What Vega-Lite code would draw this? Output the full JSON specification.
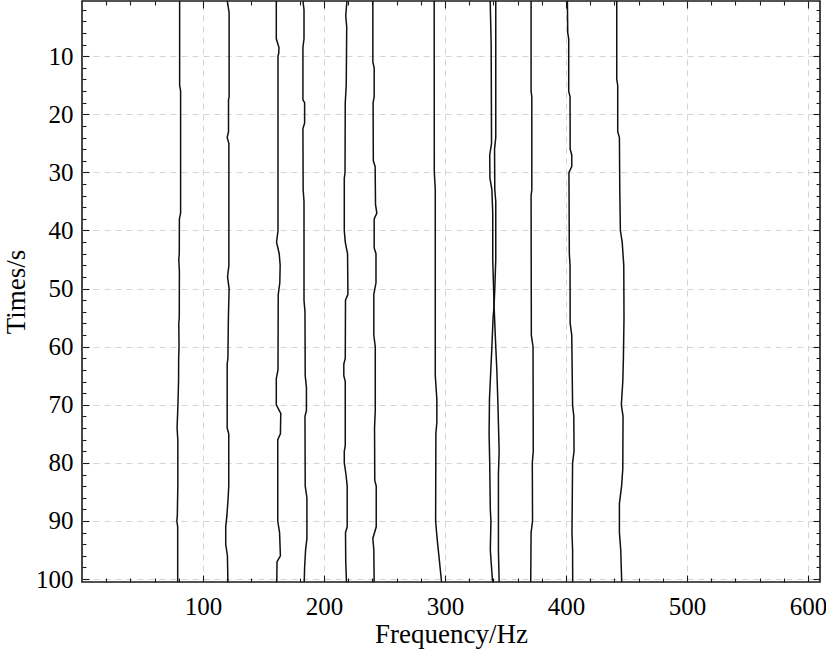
{
"$schema": "https://vega.github.io/schema/vega-lite/v6.json",
"width": 738, "height": 581,
"autosize": {"type": "none"},
"padding": {"left": 82, "top": 1, "right": 6, "bottom": 70},
"background": "white",
"config": {
  "view": {"stroke": "#1a1a1a", "strokeWidth": 1.6},
  "font": "Liberation Serif",
  "axis": {"labelFont": "Liberation Serif", "titleFont": "Liberation Serif", "labelFontSize": 25, "titleFontSize": 27, "labelColor": "#000", "titleColor": "#000", "titleFontWeight": "normal", "domain": false, "tickColor": "#1a1a1a", "tickWidth": 1.1, "gridColor": "#d4d4d4", "gridDash": [6, 5], "gridWidth": 1}
},
"data": {"values": [
{"id":1,"t":0.5,"f":80.7},{"id":1,"t":15,"f":80.7},{"id":1,"t":16,"f":81.5},{"id":1,"t":37,"f":81.5},{"id":1,"t":38,"f":80.5},{"id":1,"t":44,"f":80.4},{"id":1,"t":45,"f":80.0},{"id":1,"t":47,"f":80.5},{"id":1,"t":55,"f":80.4},{"id":1,"t":56,"f":80.0},{"id":1,"t":60,"f":80.2},{"id":1,"t":62,"f":79.9},{"id":1,"t":66,"f":79.8},{"id":1,"t":70,"f":79.3},{"id":1,"t":74,"f":78.6},{"id":1,"t":76,"f":79.2},{"id":1,"t":84,"f":79.2},{"id":1,"t":89,"f":78.8},{"id":1,"t":90,"f":78.4},{"id":1,"t":91,"f":79.1},{"id":1,"t":100.5,"f":79.1},
{"id":2,"t":0.5,"f":120.1},{"id":2,"t":2.5,"f":121.6},{"id":2,"t":17,"f":121.6},{"id":2,"t":17.5,"f":121.1},{"id":2,"t":23,"f":121.1},{"id":2,"t":24,"f":120.0},{"id":2,"t":25,"f":121.4},{"id":2,"t":46,"f":121.4},{"id":2,"t":48,"f":120.3},{"id":2,"t":50,"f":121.6},{"id":2,"t":55,"f":121.0},{"id":2,"t":62,"f":120.6},{"id":2,"t":63,"f":120.0},{"id":2,"t":74,"f":120.0},{"id":2,"t":75,"f":121.3},{"id":2,"t":84,"f":121.3},{"id":2,"t":86,"f":120.8},{"id":2,"t":89,"f":119.8},{"id":2,"t":91,"f":118.8},{"id":2,"t":94,"f":118.8},{"id":2,"t":96,"f":120.2},{"id":2,"t":100.5,"f":120.6},
{"id":3,"t":0.5,"f":160.6},{"id":3,"t":7,"f":160.6},{"id":3,"t":8.5,"f":162.8},{"id":3,"t":9.5,"f":162.6},{"id":3,"t":10,"f":162.0},{"id":3,"t":40,"f":162.0},{"id":3,"t":42,"f":160.8},{"id":3,"t":44,"f":163.0},{"id":3,"t":46,"f":163.8},{"id":3,"t":49,"f":163.5},{"id":3,"t":51,"f":162.2},{"id":3,"t":64,"f":162.0},{"id":3,"t":65.5,"f":160.6},{"id":3,"t":70,"f":160.6},{"id":3,"t":71.5,"f":164.3},{"id":3,"t":75,"f":164.0},{"id":3,"t":76,"f":161.8},{"id":3,"t":90,"f":161.8},{"id":3,"t":92,"f":163.3},{"id":3,"t":96,"f":164.0},{"id":3,"t":97,"f":161.2},{"id":3,"t":100.5,"f":161.0},
{"id":4,"t":0.5,"f":182.6},{"id":4,"t":2,"f":183.5},{"id":4,"t":7,"f":183.5},{"id":4,"t":8.5,"f":182.6},{"id":4,"t":17.5,"f":182.6},{"id":4,"t":18,"f":184.0},{"id":4,"t":21.5,"f":184.0},{"id":4,"t":22.5,"f":182.6},{"id":4,"t":33,"f":182.8},{"id":4,"t":35,"f":183.5},{"id":4,"t":52,"f":183.5},{"id":4,"t":54,"f":184.3},{"id":4,"t":65,"f":184.5},{"id":4,"t":67,"f":185.5},{"id":4,"t":71,"f":185.5},{"id":4,"t":72,"f":184.3},{"id":4,"t":84,"f":184.5},{"id":4,"t":86,"f":185.9},{"id":4,"t":93,"f":185.9},{"id":4,"t":95,"f":184.8},{"id":4,"t":98,"f":184.0},{"id":4,"t":100.5,"f":183.7},
{"id":5,"t":0.5,"f":219.0},{"id":5,"t":3,"f":218.0},{"id":5,"t":5,"f":218.8},{"id":5,"t":15,"f":218.4},{"id":5,"t":18,"f":217.6},{"id":5,"t":30,"f":217.4},{"id":5,"t":31,"f":216.8},{"id":5,"t":40,"f":216.8},{"id":5,"t":42,"f":217.6},{"id":5,"t":44,"f":219.5},{"id":5,"t":51,"f":219.8},{"id":5,"t":52,"f":217.8},{"id":5,"t":62,"f":217.6},{"id":5,"t":63,"f":216.4},{"id":5,"t":65,"f":216.4},{"id":5,"t":66,"f":217.6},{"id":5,"t":77,"f":217.6},{"id":5,"t":78,"f":216.8},{"id":5,"t":80,"f":216.8},{"id":5,"t":82,"f":218.2},{"id":5,"t":84,"f":219.2},{"id":5,"t":91,"f":219.2},{"id":5,"t":92,"f":217.8},{"id":5,"t":97,"f":218.0},{"id":5,"t":100.5,"f":218.6},
{"id":6,"t":0.5,"f":240.4},{"id":6,"t":11,"f":240.4},{"id":6,"t":12,"f":241.5},{"id":6,"t":17,"f":241.5},{"id":6,"t":18,"f":240.6},{"id":6,"t":28,"f":240.8},{"id":6,"t":29,"f":242.3},{"id":6,"t":35.5,"f":242.6},{"id":6,"t":37,"f":243.7},{"id":6,"t":38,"f":241.5},{"id":6,"t":43,"f":241.5},{"id":6,"t":44,"f":243.0},{"id":6,"t":49,"f":243.0},{"id":6,"t":51,"f":241.2},{"id":6,"t":58,"f":241.2},{"id":6,"t":60,"f":242.4},{"id":6,"t":71,"f":242.4},{"id":6,"t":74,"f":241.8},{"id":6,"t":83,"f":242.0},{"id":6,"t":84,"f":243.2},{"id":6,"t":91,"f":243.2},{"id":6,"t":93,"f":240.4},{"id":6,"t":95,"f":241.2},{"id":6,"t":100.5,"f":241.5},
{"id":7,"t":0.5,"f":291.1},{"id":7,"t":30,"f":291.2},{"id":7,"t":33,"f":292.0},{"id":7,"t":65,"f":292.0},{"id":7,"t":69,"f":293.3},{"id":7,"t":73,"f":293.3},{"id":7,"t":75,"f":292.5},{"id":7,"t":90,"f":292.3},{"id":7,"t":93,"f":293.5},{"id":7,"t":96,"f":295.0},{"id":7,"t":100.5,"f":297.2},
{"id":8,"t":0.5,"f":337.4},{"id":8,"t":8,"f":338.2},{"id":8,"t":25,"f":338.5},{"id":8,"t":27,"f":337.0},{"id":8,"t":31,"f":337.2},{"id":8,"t":33,"f":338.8},{"id":8,"t":37,"f":339.5},{"id":8,"t":45,"f":339.5},{"id":8,"t":50,"f":340.2},{"id":8,"t":53,"f":340.6},{"id":8,"t":55,"f":339.8},{"id":8,"t":60,"f":338.8},{"id":8,"t":64,"f":337.9},{"id":8,"t":69,"f":336.8},{"id":8,"t":75,"f":336.5},{"id":8,"t":80,"f":337.0},{"id":8,"t":88,"f":337.5},{"id":8,"t":90,"f":338.0},{"id":8,"t":95,"f":337.5},{"id":8,"t":98,"f":338.5},{"id":8,"t":100.5,"f":339.4},
{"id":9,"t":0.5,"f":342.0},{"id":9,"t":24,"f":342.0},{"id":9,"t":26,"f":341.0},{"id":9,"t":33,"f":341.2},{"id":9,"t":35,"f":342.0},{"id":9,"t":45,"f":342.0},{"id":9,"t":50,"f":341.2},{"id":9,"t":53,"f":340.6},{"id":9,"t":55,"f":341.0},{"id":9,"t":60,"f":342.0},{"id":9,"t":64,"f":342.9},{"id":9,"t":70,"f":343.8},{"id":9,"t":78,"f":344.8},{"id":9,"t":82,"f":344.2},{"id":9,"t":95,"f":344.2},{"id":9,"t":100.5,"f":344.8},
{"id":10,"t":0.5,"f":371.2},{"id":10,"t":16,"f":371.2},{"id":10,"t":17,"f":371.8},{"id":10,"t":33,"f":371.8},{"id":10,"t":34,"f":371.2},{"id":10,"t":58,"f":371.4},{"id":10,"t":60,"f":372.8},{"id":10,"t":78,"f":373.0},{"id":10,"t":80,"f":372.2},{"id":10,"t":90,"f":372.4},{"id":10,"t":92,"f":371.2},{"id":10,"t":100.5,"f":370.9},
{"id":11,"t":0.5,"f":401.2},{"id":11,"t":6,"f":401.5},{"id":11,"t":7,"f":402.3},{"id":11,"t":16,"f":402.3},{"id":11,"t":17,"f":403.4},{"id":11,"t":26,"f":403.5},{"id":11,"t":27,"f":404.8},{"id":11,"t":29,"f":404.8},{"id":11,"t":30,"f":402.5},{"id":11,"t":44,"f":402.8},{"id":11,"t":46,"f":403.4},{"id":11,"t":56,"f":403.5},{"id":11,"t":58,"f":404.8},{"id":11,"t":70,"f":405.5},{"id":11,"t":72,"f":406.5},{"id":11,"t":78,"f":406.7},{"id":11,"t":80,"f":405.5},{"id":11,"t":92,"f":405.0},{"id":11,"t":95,"f":405.5},{"id":11,"t":100.5,"f":405.6},
{"id":12,"t":0.5,"f":442.0},{"id":12,"t":14,"f":442.0},{"id":12,"t":15,"f":442.8},{"id":12,"t":23,"f":442.8},{"id":12,"t":24,"f":444.2},{"id":12,"t":33,"f":444.5},{"id":12,"t":40,"f":445.0},{"id":12,"t":42,"f":446.5},{"id":12,"t":46,"f":447.8},{"id":12,"t":55,"f":448.0},{"id":12,"t":62,"f":447.5},{"id":12,"t":66,"f":447.0},{"id":12,"t":70,"f":445.8},{"id":12,"t":72,"f":447.2},{"id":12,"t":81,"f":447.0},{"id":12,"t":84,"f":446.0},{"id":12,"t":87,"f":444.2},{"id":12,"t":92,"f":444.2},{"id":12,"t":95,"f":445.3},{"id":12,"t":100.5,"f":446.1}
]},
"layer": [
  {"mark": {"type": "line", "color": "#111", "strokeWidth": 1.5},
   "encoding": {
     "x": {"field": "f", "type": "quantitative", "scale": {"domain": [0, 610], "nice": false, "zero": false},
           "axis": {"orient": "bottom", "values": [100, 200, 300, 400, 500, 600], "grid": true, "tickSize": -7, "labelPadding": 19, "labelFont": "Liberation Serif", "labelFontSize": 25, "title": "Frequency/Hz", "titlePadding": 2}},
     "y": {"field": "t", "type": "quantitative", "scale": {"domain": [0.5, 100.5], "reverse": true, "nice": false, "zero": false},
           "axis": {"orient": "left", "values": [10, 20, 30, 40, 50, 60, 70, 80, 90, 100], "grid": true, "tickSize": -7, "labelPadding": 16, "labelFont": "Liberation Serif", "labelFontSize": 25, "title": "Times/s", "titlePadding": 5}},
     "detail": {"field": "id"},
     "order": {"field": "t"}
   }},
  {"mark": {"type": "line", "strokeOpacity": 0},
   "encoding": {
     "x": {"field": "f", "type": "quantitative", "axis": {"orient": "top", "values": [100, 200, 300, 400, 500, 600], "grid": false, "labels": false, "tickSize": -7, "title": null}},
     "y": {"field": "t", "type": "quantitative", "axis": {"orient": "right", "values": [10, 20, 30, 40, 50, 60, 70, 80, 90, 100], "grid": false, "labels": false, "tickSize": -7, "title": null}},
     "detail": {"field": "id"},
     "order": {"field": "t"}
   }},
  {"mark": {"type": "line", "strokeOpacity": 0},
   "encoding": {
     "x": {"field": "f", "type": "quantitative", "axis": {"orient": "bottom", "values": [20, 40, 60, 80, 120, 140, 160, 180, 220, 240, 260, 280, 320, 340, 360, 380, 420, 440, 460, 480, 520, 540, 560, 580], "grid": false, "labels": false, "tickSize": -4, "title": null}},
     "y": {"field": "t", "type": "quantitative", "axis": {"orient": "left", "values": [2, 4, 6, 8, 12, 14, 16, 18, 22, 24, 26, 28, 32, 34, 36, 38, 42, 44, 46, 48, 52, 54, 56, 58, 62, 64, 66, 68, 72, 74, 76, 78, 82, 84, 86, 88, 92, 94, 96, 98], "grid": false, "labels": false, "tickSize": -4, "title": null}},
     "detail": {"field": "id"},
     "order": {"field": "t"}
   }},
  {"mark": {"type": "line", "strokeOpacity": 0},
   "encoding": {
     "x": {"field": "f", "type": "quantitative", "axis": {"orient": "top", "values": [20, 40, 60, 80, 120, 140, 160, 180, 220, 240, 260, 280, 320, 340, 360, 380, 420, 440, 460, 480, 520, 540, 560, 580], "grid": false, "labels": false, "tickSize": -4, "title": null}},
     "y": {"field": "t", "type": "quantitative", "axis": {"orient": "right", "values": [2, 4, 6, 8, 12, 14, 16, 18, 22, 24, 26, 28, 32, 34, 36, 38, 42, 44, 46, 48, 52, 54, 56, 58, 62, 64, 66, 68, 72, 74, 76, 78, 82, 84, 86, 88, 92, 94, 96, 98], "grid": false, "labels": false, "tickSize": -4, "title": null}},
     "detail": {"field": "id"},
     "order": {"field": "t"}
   }}
],
"resolve": {"axis": {"x": "independent", "y": "independent"}}
}
